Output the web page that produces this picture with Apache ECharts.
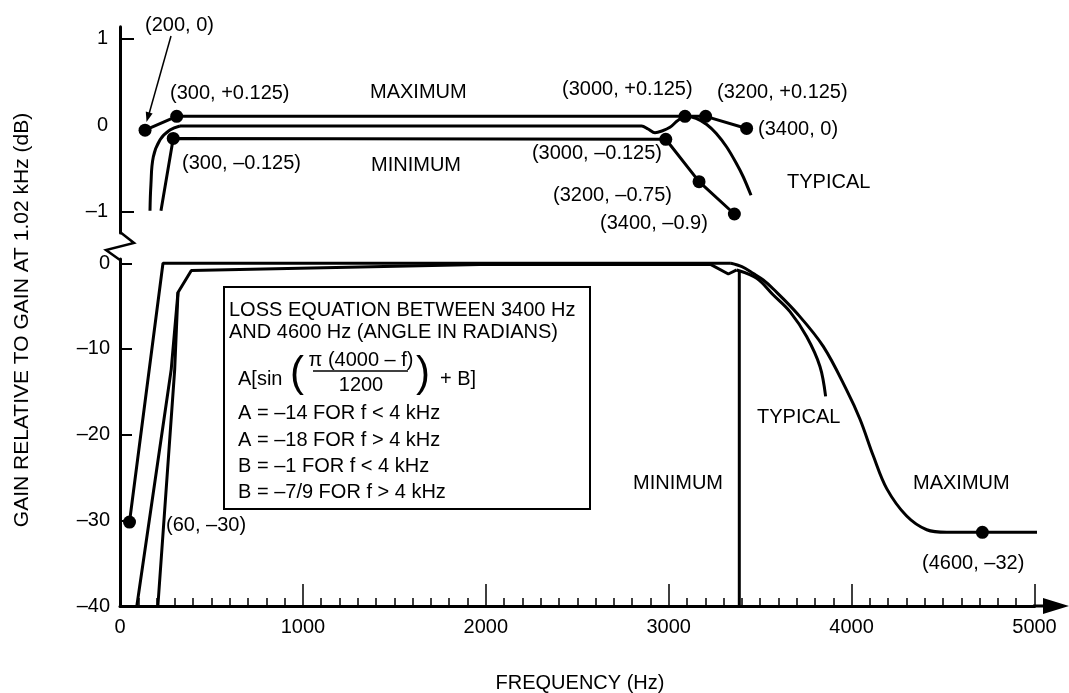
<!DOCTYPE html>
<html><head><meta charset="utf-8">
<script src="https://cdn.jsdelivr.net/npm/echarts@6/dist/echarts.min.js"></script>
<style>html,body{margin:0;padding:0;background:#fff}#c{width:1069px;height:693px}</style>
</head><body><div id="c"></div>
<script>
// ---------------- data ----------------
const xTickValues = [0, 1000, 2000, 3000, 4000, 5000];
const upperYLabelValues = [-1, 0, 1];
const upperYTickValues = [-1, 1];
const lowerYLabelValues = [0, -10, -20, -30, -40];

// upper panel (passband detail, dB)
const upperMaximum = [[137, -0.06], [310, 0.1], [3089, 0.1], [3202, 0.1], [3426, -0.04]];
const upperMaximumDots = [[137, -0.06], [310, 0.1], [3089, 0.1], [3202, 0.1], [3426, -0.04]];
const upperTypicalRise = [[164, -0.99], [169, -0.69], [182, -0.37], [219, -0.17], [273, -0.058], [328, -0.012]];
const upperTypicalMain = [[328, -0.012], [2852, -0.012], [2887, -0.046], [2925, -0.089], [2963, -0.069], [3007, -0.027],
  [3046, 0.046], [3089, 0.1], [3149, 0.078], [3208, 0.006], [3259, -0.096], [3317, -0.254], [3368, -0.436], [3408, -0.6], [3450, -0.81]];
const upperMinimum = [[224, -0.99], [291, -0.155], [2984, -0.165], [3166, -0.654], [3359, -1.027]];
const upperMinimumDots = [[291, -0.155], [2984, -0.165], [3166, -0.654], [3359, -1.027]];

// lower panel (full range, dB)
const lowerMaxRise = [[52, -30.2], [235, 0], [3340, 0]];
const lowerMaxRolloff = [[3340, 0], [3400, -0.4], [3463, -1.2], [3517, -1.95], [3572, -3.0], [3700, -5.8], [3845, -9.7],
  [3973, -14.8], [4046, -18.2], [4119, -22.5], [4192, -26.3], [4301, -29.5], [4411, -31.1], [4520, -31.4], [4715, -31.4], [5167, -31.4]];
const lowerTypicalRise = [[92, -40], [280, -12.4], [317, -3.4], [390, -0.84], [1970, -0.15], [3226, -0.1], [3326, -1.25], [3372, -0.78]];
const lowerMinimumRise = [[207, -40], [299, -12.4], [317, -3.4]];
const lowerTypicalRolloff = [[3372, -0.78], [3481, -1.75], [3572, -3.7], [3663, -5.64], [3754, -8.55], [3827, -12.04], [3858, -15.54]];
const lowerMinimumCutoff = [[3386, -0.78], [3386, -40]];
const lowerDots = [[52, -30.2], [4715, -31.4]];

// ---------------- chart ----------------
const FONT = '"Liberation Sans", Arial, Helvetica, sans-serif';
const dash = v => (v < 0 ? '\u2013' + Math.abs(v) : String(v));

function txt(x, y, s, align, size) {
  const f = (size || 20) + 'px ' + FONT;
  return { type: 'text', x: x, y: y, silent: true, z: 100,
    style: { text: s, font: f, fill: '#000', align: align || 'left', verticalAlign: 'middle',
      textAlign: align || 'left', textVerticalAlign: 'middle' } };
}
function seg(points, w) {
  return { type: 'polyline', silent: true, z: 100, shape: { points: points },
    style: { stroke: '#000', lineWidth: w || 3, fill: null } };
}

const lineStyle = { color: '#000', width: 3 };
function lineSeries(data, xi, smooth) {
  return { type: 'line', xAxisIndex: xi, yAxisIndex: xi, data: data, symbol: 'none', showSymbol: false,
    smooth: smooth || false, clip: false, lineStyle: lineStyle, silent: true, animation: false, z: 5 };
}
function dotSeries(data, xi) {
  return { type: 'scatter', xAxisIndex: xi, yAxisIndex: xi, data: data, symbol: 'circle', symbolSize: 13,
    itemStyle: { color: '#000', opacity: 1 }, clip: false, silent: true, animation: false, z: 6 };
}

const chart = echarts.init(document.getElementById('c'), null, { renderer: 'canvas' });
const axisLineStyle = { color: '#000', width: 3 };

chart.setOption({
  backgroundColor: '#fff',
  animation: false,
  grid: [
    { left: 120, width: 914.5, top: 26.7, height: 206.3 },
    { left: 120, width: 914.5, top: 259, height: 347 }
  ],
  xAxis: [
    { gridIndex: 0, type: 'value', min: 0, max: 5000, show: false },
    { gridIndex: 1, type: 'value', min: 0, max: 5000, interval: 1000,
      axisLine: { show: true, onZero: false, lineStyle: axisLineStyle },
      axisTick: { show: true, inside: true, length: 22, lineStyle: { color: '#000', width: 1.5 } },
      minorTick: { show: true, splitNumber: 10, length: 8, lineStyle: { color: '#000', width: 1.5 } },
      splitLine: { show: false },
      axisLabel: { color: '#000', fontSize: 20, fontFamily: FONT, margin: 11,
        customValues: xTickValues, formatter: v => String(v) } }
  ],
  yAxis: [
    { gridIndex: 0, type: 'value', min: -1.246, max: 1.134,
      axisLine: { show: true, onZero: false, lineStyle: axisLineStyle },
      axisTick: { show: true, inside: true, length: 14, customValues: upperYTickValues, lineStyle: { color: '#000', width: 2 } },
      splitLine: { show: false },
      axisLabel: { color: '#000', fontSize: 20, fontFamily: FONT, margin: 12, customValues: upperYLabelValues, formatter: dash } },
    { gridIndex: 1, type: 'value', min: -40, max: 0.5,
      axisLine: { show: true, onZero: false, lineStyle: axisLineStyle },
      axisTick: { show: true, inside: true, length: 12, customValues: lowerYLabelValues, lineStyle: { color: '#000', width: 2 } },
      splitLine: { show: false },
      axisLabel: { color: '#000', fontSize: 20, fontFamily: FONT, margin: 10, customValues: lowerYLabelValues, formatter: dash } }
  ],
  series: [
    lineSeries(upperMaximum, 0, false),
    lineSeries(upperTypicalRise, 0, 0.4),
    lineSeries(upperTypicalMain, 0, 0.3),
    lineSeries(upperMinimum, 0, false),
    dotSeries(upperMaximumDots, 0),
    dotSeries(upperMinimumDots, 0),
    lineSeries(lowerMaxRise, 1, false),
    lineSeries(lowerMaxRolloff, 1, 0.35),
    lineSeries(lowerTypicalRise, 1, false),
    lineSeries(lowerMinimumRise, 1, false),
    lineSeries(lowerTypicalRolloff, 1, 0.35),
    lineSeries(lowerMinimumCutoff, 1, false),
    dotSeries(lowerDots, 1)
  ],
  graphic: [
    // axis break
    seg([[120, 232], [134, 243], [106, 250], [120, 260]], 2.5),
    // x-axis extension + arrow
    seg([[1033, 606], [1046, 606]], 3),
    { type: 'polygon', silent: true, z: 100, shape: { points: [[1043, 598], [1069, 606], [1043, 614]] }, style: { fill: '#000' } },
    // pointer for (200, 0)
    seg([[171, 36], [149, 114]], 1.5),
    { type: 'polygon', silent: true, z: 100, shape: { points: [[146.5, 122], [152.6, 113.5], [145.8, 111.6]] }, style: { fill: '#000' } },
    // axis titles
    { type: 'text', x: 22, y: 320, rotation: Math.PI / 2, silent: true,
      style: { text: 'GAIN RELATIVE TO GAIN AT 1.02 kHz (dB)', font: '21px ' + FONT, fill: '#000',
        align: 'center', verticalAlign: 'middle', textAlign: 'center', textVerticalAlign: 'middle' } },
    txt(580, 683, 'FREQUENCY (Hz)', 'center'),
    // upper annotations
    txt(145, 25, '(200, 0)'),
    txt(170, 93, '(300, +0.125)'),
    txt(370, 92, 'MAXIMUM'),
    txt(562, 89, '(3000, +0.125)'),
    txt(717, 92, '(3200, +0.125)'),
    txt(758, 129, '(3400, 0)'),
    txt(182, 163, '(300, \u20130.125)'),
    txt(371, 165, 'MINIMUM'),
    txt(662, 153, '(3000, \u20130.125)', 'right'),
    txt(553, 195, '(3200, \u20130.75)'),
    txt(600, 223, '(3400, \u20130.9)'),
    txt(787, 182, 'TYPICAL'),
    // lower annotations
    txt(166, 525, '(60, \u201330)'),
    txt(757, 417, 'TYPICAL'),
    txt(723, 483, 'MINIMUM', 'right'),
    txt(913, 483, 'MAXIMUM'),
    txt(922, 563, '(4600, \u201332)'),
    // equation box
    { type: 'rect', silent: true, z: 90, shape: { x: 224, y: 287, width: 366, height: 222 },
      style: { fill: '#fff', stroke: '#000', lineWidth: 2 } },
    txt(229, 310, 'LOSS EQUATION BETWEEN 3400 Hz'),
    txt(229, 332, 'AND 4600 Hz (ANGLE IN RADIANS)'),
    txt(238, 379, 'A[sin'),
    txt(290, 374, '(', 'left', 42),
    txt(361, 360, '\u03c0 (4000 \u2013 f)', 'center'),
    seg([[313, 371], [408, 371]], 1.5),
    txt(361, 385, '1200', 'center'),
    txt(416, 374, ')', 'left', 42),
    txt(440, 379, '+ B]'),
    txt(238, 413, 'A = \u201314 FOR f < 4 kHz'),
    txt(238, 440, 'A = \u201318 FOR f > 4 kHz'),
    txt(238, 466, 'B = \u20131 FOR f < 4 kHz'),
    txt(238, 492, 'B = \u20137/9 FOR f > 4 kHz')
  ]
});
</script></body></html>
